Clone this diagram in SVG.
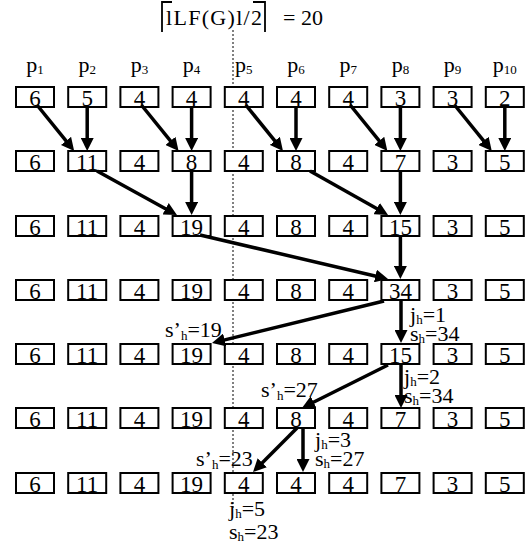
<svg xmlns="http://www.w3.org/2000/svg" width="525" height="544" viewBox="0 0 525 544">
<style>
text{font-family:"Liberation Serif","Times New Roman",serif;font-size:22px;fill:#000}
.v{text-anchor:middle;font-size:23px}
.sub{font-size:13px}
.lab{font-size:21px}
rect{fill:#fff;stroke:#000;stroke-width:2}
.c line{stroke:#000;stroke-width:3.5;marker-end:url(#ah)}
</style>
<defs>
<marker id="ah" markerUnits="userSpaceOnUse" markerWidth="14" markerHeight="13" refX="3" refY="6.5" orient="auto"><path d="M0,0 L13,6.5 L0,13 z" fill="#000"/></marker>
</defs>
<rect width="525" height="544" style="fill:#fff;stroke:none"/>
<g id="title">
<text x="166" y="25" textLength="96" lengthAdjust="spacing">lLF(G)l/2</text>
<path d="M162,32 V2 H172 M253,2 H265 V32" fill="none" stroke="#000" stroke-width="1.8"/>
<text x="283" y="25">= 20</text>
</g>
<line id="divider" x1="233" y1="30" x2="233" y2="508" stroke="#000" stroke-width="1" stroke-dasharray="2,2"/>
<g id="labels">
<text x="35" y="72" style="text-anchor:middle">p<tspan class="sub" dy="2">1</tspan></text>
<text x="87.2" y="72" style="text-anchor:middle">p<tspan class="sub" dy="2">2</tspan></text>
<text x="139.4" y="72" style="text-anchor:middle">p<tspan class="sub" dy="2">3</tspan></text>
<text x="191.6" y="72" style="text-anchor:middle">p<tspan class="sub" dy="2">4</tspan></text>
<text x="243.8" y="72" style="text-anchor:middle">p<tspan class="sub" dy="2">5</tspan></text>
<text x="296" y="72" style="text-anchor:middle">p<tspan class="sub" dy="2">6</tspan></text>
<text x="348.2" y="72" style="text-anchor:middle">p<tspan class="sub" dy="2">7</tspan></text>
<text x="400.4" y="72" style="text-anchor:middle">p<tspan class="sub" dy="2">8</tspan></text>
<text x="452.6" y="72" style="text-anchor:middle">p<tspan class="sub" dy="2">9</tspan></text>
<text x="504.8" y="72" style="text-anchor:middle">p<tspan class="sub" dy="2">10</tspan></text>
</g>
<g id="row1">
<g id="r1b1"><rect x="16" y="87" width="38" height="20"/><text class="v" x="35" y="106">6</text></g>
<g id="r1b2"><rect x="68.2" y="87" width="38" height="20"/><text class="v" x="87.2" y="106">5</text></g>
<g id="r1b3"><rect x="120.4" y="87" width="38" height="20"/><text class="v" x="139.4" y="106">4</text></g>
<g id="r1b4"><rect x="172.6" y="87" width="38" height="20"/><text class="v" x="191.6" y="106">4</text></g>
<g id="r1b5"><rect x="224.8" y="87" width="38" height="20"/><text class="v" x="243.8" y="106">4</text></g>
<g id="r1b6"><rect x="277" y="87" width="38" height="20"/><text class="v" x="296" y="106">4</text></g>
<g id="r1b7"><rect x="329.2" y="87" width="38" height="20"/><text class="v" x="348.2" y="106">4</text></g>
<g id="r1b8"><rect x="381.4" y="87" width="38" height="20"/><text class="v" x="400.4" y="106">3</text></g>
<g id="r1b9"><rect x="433.6" y="87" width="38" height="20"/><text class="v" x="452.6" y="106">3</text></g>
<g id="r1b10"><rect x="485.8" y="87" width="38" height="20"/><text class="v" x="504.8" y="106">2</text></g>
</g>
<g id="row2">
<g id="r2b1"><rect x="16" y="151" width="38" height="20"/><text class="v" x="35" y="170">6</text></g>
<g id="r2b2"><rect x="68.2" y="151" width="38" height="20"/><text class="v" x="87.2" y="170">11</text></g>
<g id="r2b3"><rect x="120.4" y="151" width="38" height="20"/><text class="v" x="139.4" y="170">4</text></g>
<g id="r2b4"><rect x="172.6" y="151" width="38" height="20"/><text class="v" x="191.6" y="170">8</text></g>
<g id="r2b5"><rect x="224.8" y="151" width="38" height="20"/><text class="v" x="243.8" y="170">4</text></g>
<g id="r2b6"><rect x="277" y="151" width="38" height="20"/><text class="v" x="296" y="170">8</text></g>
<g id="r2b7"><rect x="329.2" y="151" width="38" height="20"/><text class="v" x="348.2" y="170">4</text></g>
<g id="r2b8"><rect x="381.4" y="151" width="38" height="20"/><text class="v" x="400.4" y="170">7</text></g>
<g id="r2b9"><rect x="433.6" y="151" width="38" height="20"/><text class="v" x="452.6" y="170">3</text></g>
<g id="r2b10"><rect x="485.8" y="151" width="38" height="20"/><text class="v" x="504.8" y="170">5</text></g>
</g>
<g id="row3">
<g id="r3b1"><rect x="16" y="216" width="38" height="20"/><text class="v" x="35" y="235">6</text></g>
<g id="r3b2"><rect x="68.2" y="216" width="38" height="20"/><text class="v" x="87.2" y="235">11</text></g>
<g id="r3b3"><rect x="120.4" y="216" width="38" height="20"/><text class="v" x="139.4" y="235">4</text></g>
<g id="r3b4"><rect x="172.6" y="216" width="38" height="20"/><text class="v" x="191.6" y="235">19</text></g>
<g id="r3b5"><rect x="224.8" y="216" width="38" height="20"/><text class="v" x="243.8" y="235">4</text></g>
<g id="r3b6"><rect x="277" y="216" width="38" height="20"/><text class="v" x="296" y="235">8</text></g>
<g id="r3b7"><rect x="329.2" y="216" width="38" height="20"/><text class="v" x="348.2" y="235">4</text></g>
<g id="r3b8"><rect x="381.4" y="216" width="38" height="20"/><text class="v" x="400.4" y="235">15</text></g>
<g id="r3b9"><rect x="433.6" y="216" width="38" height="20"/><text class="v" x="452.6" y="235">3</text></g>
<g id="r3b10"><rect x="485.8" y="216" width="38" height="20"/><text class="v" x="504.8" y="235">5</text></g>
</g>
<g id="row4">
<g id="r4b1"><rect x="16" y="280" width="38" height="20"/><text class="v" x="35" y="299">6</text></g>
<g id="r4b2"><rect x="68.2" y="280" width="38" height="20"/><text class="v" x="87.2" y="299">11</text></g>
<g id="r4b3"><rect x="120.4" y="280" width="38" height="20"/><text class="v" x="139.4" y="299">4</text></g>
<g id="r4b4"><rect x="172.6" y="280" width="38" height="20"/><text class="v" x="191.6" y="299">19</text></g>
<g id="r4b5"><rect x="224.8" y="280" width="38" height="20"/><text class="v" x="243.8" y="299">4</text></g>
<g id="r4b6"><rect x="277" y="280" width="38" height="20"/><text class="v" x="296" y="299">8</text></g>
<g id="r4b7"><rect x="329.2" y="280" width="38" height="20"/><text class="v" x="348.2" y="299">4</text></g>
<g id="r4b8"><rect x="381.4" y="280" width="38" height="20"/><text class="v" x="400.4" y="299">34</text></g>
<g id="r4b9"><rect x="433.6" y="280" width="38" height="20"/><text class="v" x="452.6" y="299">3</text></g>
<g id="r4b10"><rect x="485.8" y="280" width="38" height="20"/><text class="v" x="504.8" y="299">5</text></g>
</g>
<g id="row5">
<g id="r5b1"><rect x="16" y="344" width="38" height="20"/><text class="v" x="35" y="363">6</text></g>
<g id="r5b2"><rect x="68.2" y="344" width="38" height="20"/><text class="v" x="87.2" y="363">11</text></g>
<g id="r5b3"><rect x="120.4" y="344" width="38" height="20"/><text class="v" x="139.4" y="363">4</text></g>
<g id="r5b4"><rect x="172.6" y="344" width="38" height="20"/><text class="v" x="191.6" y="363">19</text></g>
<g id="r5b5"><rect x="224.8" y="344" width="38" height="20"/><text class="v" x="243.8" y="363">4</text></g>
<g id="r5b6"><rect x="277" y="344" width="38" height="20"/><text class="v" x="296" y="363">8</text></g>
<g id="r5b7"><rect x="329.2" y="344" width="38" height="20"/><text class="v" x="348.2" y="363">4</text></g>
<g id="r5b8"><rect x="381.4" y="344" width="38" height="20"/><text class="v" x="400.4" y="363">15</text></g>
<g id="r5b9"><rect x="433.6" y="344" width="38" height="20"/><text class="v" x="452.6" y="363">3</text></g>
<g id="r5b10"><rect x="485.8" y="344" width="38" height="20"/><text class="v" x="504.8" y="363">5</text></g>
</g>
<g id="row6">
<g id="r6b1"><rect x="16" y="408" width="38" height="20"/><text class="v" x="35" y="427">6</text></g>
<g id="r6b2"><rect x="68.2" y="408" width="38" height="20"/><text class="v" x="87.2" y="427">11</text></g>
<g id="r6b3"><rect x="120.4" y="408" width="38" height="20"/><text class="v" x="139.4" y="427">4</text></g>
<g id="r6b4"><rect x="172.6" y="408" width="38" height="20"/><text class="v" x="191.6" y="427">19</text></g>
<g id="r6b5"><rect x="224.8" y="408" width="38" height="20"/><text class="v" x="243.8" y="427">4</text></g>
<g id="r6b6"><rect x="277" y="408" width="38" height="20"/><text class="v" x="296" y="427">8</text></g>
<g id="r6b7"><rect x="329.2" y="408" width="38" height="20"/><text class="v" x="348.2" y="427">4</text></g>
<g id="r6b8"><rect x="381.4" y="408" width="38" height="20"/><text class="v" x="400.4" y="427">7</text></g>
<g id="r6b9"><rect x="433.6" y="408" width="38" height="20"/><text class="v" x="452.6" y="427">3</text></g>
<g id="r6b10"><rect x="485.8" y="408" width="38" height="20"/><text class="v" x="504.8" y="427">5</text></g>
</g>
<g id="row7">
<g id="r7b1"><rect x="16" y="473" width="38" height="20"/><text class="v" x="35" y="492">6</text></g>
<g id="r7b2"><rect x="68.2" y="473" width="38" height="20"/><text class="v" x="87.2" y="492">11</text></g>
<g id="r7b3"><rect x="120.4" y="473" width="38" height="20"/><text class="v" x="139.4" y="492">4</text></g>
<g id="r7b4"><rect x="172.6" y="473" width="38" height="20"/><text class="v" x="191.6" y="492">19</text></g>
<g id="r7b5"><rect x="224.8" y="473" width="38" height="20"/><text class="v" x="243.8" y="492">4</text></g>
<g id="r7b6"><rect x="277" y="473" width="38" height="20"/><text class="v" x="296" y="492">4</text></g>
<g id="r7b7"><rect x="329.2" y="473" width="38" height="20"/><text class="v" x="348.2" y="492">4</text></g>
<g id="r7b8"><rect x="381.4" y="473" width="38" height="20"/><text class="v" x="400.4" y="492">7</text></g>
<g id="r7b9"><rect x="433.6" y="473" width="38" height="20"/><text class="v" x="452.6" y="492">3</text></g>
<g id="r7b10"><rect x="485.8" y="473" width="38" height="20"/><text class="v" x="504.8" y="492">5</text></g>
</g>
<g id="connectors" class="c">
<line x1="37" y1="105" x2="67.9" y2="143.2"/>
<line x1="87.2" y1="107" x2="87.2" y2="141"/>
<line x1="141.4" y1="105" x2="172.3" y2="143.2"/>
<line x1="191.6" y1="107" x2="191.6" y2="141"/>
<line x1="245.8" y1="105" x2="276.7" y2="143.2"/>
<line x1="296" y1="107" x2="296" y2="141"/>
<line x1="350.2" y1="105" x2="381.1" y2="143.2"/>
<line x1="400.4" y1="107" x2="400.4" y2="141"/>
<line x1="454.6" y1="105" x2="485.5" y2="143.2"/>
<line x1="504.8" y1="107" x2="504.8" y2="141"/>
<line x1="97" y1="171" x2="168.2" y2="210.2"/>
<line x1="191.6" y1="171" x2="191.6" y2="205"/>
<line x1="310" y1="171" x2="379.3" y2="210.1"/>
<line x1="400.4" y1="171" x2="400.4" y2="205"/>
<line x1="200" y1="235" x2="378.3" y2="276.7"/>
<line x1="400.4" y1="236" x2="400.4" y2="269"/>
<line x1="384" y1="301" x2="221.7" y2="340.6"/>
<line x1="401" y1="300" x2="401" y2="333"/>
<line x1="388" y1="365" x2="310.9" y2="403.5"/>
<line x1="401" y1="364" x2="401" y2="398"/>
<line x1="297" y1="428" x2="260.1" y2="464.9"/>
<line x1="303" y1="428" x2="303" y2="462"/>
</g>
<g id="annotations" class="lab">
<text x="410" y="322">j<tspan class="sub" dy="2">h</tspan><tspan dy="-2">=1</tspan></text>
<text x="410" y="341">s<tspan class="sub" dy="2">h</tspan><tspan dy="-2">=34</tspan></text>
<text x="165" y="337">s’<tspan class="sub" dy="3">h</tspan><tspan dy="-3">=19</tspan></text>
<text x="404" y="384">j<tspan class="sub" dy="2">h</tspan><tspan dy="-2">=2</tspan></text>
<text x="404" y="403">s<tspan class="sub" dy="2">h</tspan><tspan dy="-2">=34</tspan></text>
<text x="261" y="397">s’<tspan class="sub" dy="3">h</tspan><tspan dy="-3">=27</tspan></text>
<text x="315" y="447">j<tspan class="sub" dy="2">h</tspan><tspan dy="-2">=3</tspan></text>
<text x="315" y="466">s<tspan class="sub" dy="2">h</tspan><tspan dy="-2">=27</tspan></text>
<text x="196" y="466">s’<tspan class="sub" dy="3">h</tspan><tspan dy="-3">=23</tspan></text>
<text x="229" y="516">j<tspan class="sub" dy="2">h</tspan><tspan dy="-2">=5</tspan></text>
<text x="229" y="539">s<tspan class="sub" dy="2">h</tspan><tspan dy="-2">=23</tspan></text>
</g>
</svg>
